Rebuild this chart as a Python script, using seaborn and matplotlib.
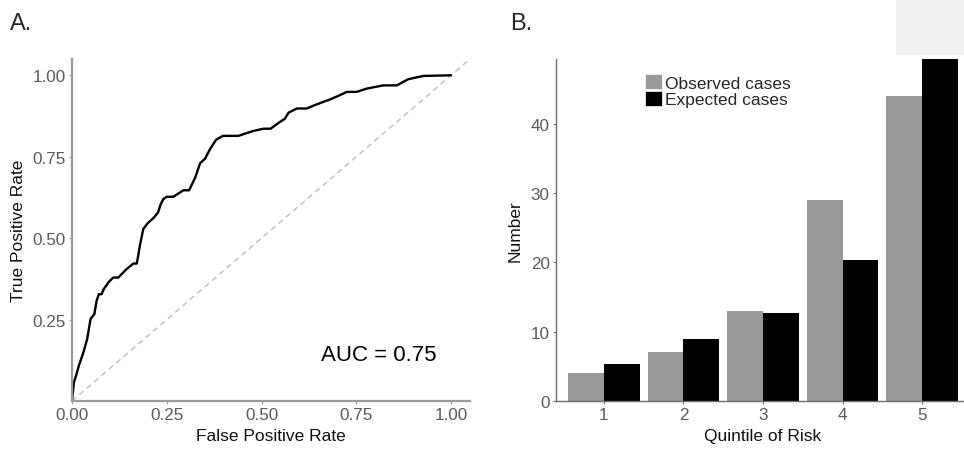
import matplotlib
matplotlib.use("Agg")
import matplotlib.pyplot as plt
import seaborn as sns
import pandas as pd
from matplotlib.patches import Rectangle, Patch

# ---- data ----
fpr = [0.0, 0.005, 0.012, 0.018, 0.030, 0.040, 0.049, 0.059, 0.065, 0.071, 0.078,
       0.084, 0.098, 0.109, 0.122, 0.144, 0.162, 0.171, 0.179, 0.188, 0.200, 0.216,
       0.227, 0.234, 0.241, 0.250, 0.267, 0.294, 0.309, 0.325, 0.338, 0.351, 0.364,
       0.380, 0.398, 0.439, 0.478, 0.505, 0.524, 0.544, 0.562, 0.571, 0.593, 0.619,
       0.646, 0.681, 0.703, 0.725, 0.751, 0.777, 0.821, 0.857, 0.887, 0.927, 1.0]
tpr = [0.0, 0.057, 0.083, 0.108, 0.149, 0.190, 0.252, 0.267, 0.308, 0.328, 0.328,
       0.344, 0.367, 0.379, 0.379, 0.405, 0.422, 0.422, 0.476, 0.528, 0.546, 0.563,
       0.579, 0.604, 0.620, 0.627, 0.627, 0.647, 0.647, 0.686, 0.730, 0.744, 0.773,
       0.802, 0.814, 0.814, 0.829, 0.836, 0.836, 0.853, 0.867, 0.885, 0.898, 0.898,
       0.911, 0.926, 0.937, 0.949, 0.949, 0.959, 0.969, 0.969, 0.988, 0.998, 1.0]
auc_label = "AUC = 0.75"

quintiles = ["1", "2", "3", "4", "5"]
observed = [4.0, 7.0, 13.0, 29.0, 44.0]
expected = [5.3, 9.0, 12.7, 20.4, 50.0]
series_names = ["Observed cases", "Expected cases"]

# ---- style ----
sns.set_style("white")
plt.rcParams["font.family"] = ["Liberation Sans", "DejaVu Sans"]

axis_col = "#9a9a9a"
tick_col = "#5a5a5a"

fig = plt.figure(figsize=(9.64, 4.52), dpi=100)

bottom = 50 / 452
height = 342 / 452

# ---- panel A ----
axA = fig.add_axes([72 / 964, bottom, 398 / 964, height])
roc = pd.DataFrame({"fpr": fpr, "tpr": tpr})
axA.axline((0, 0), slope=1, color="#bdbdbd", lw=1.0, dashes=(4, 3))
sns.lineplot(data=roc, x="fpr", y="tpr", sort=False, estimator=None,
             color="black", lw=1.7, ax=axA)
axA.set_xlim(0, 1.05)
axA.set_ylim(0, 1.05)
axA.set_xticks([0, 0.25, 0.5, 0.75, 1.0])
axA.set_xticklabels(["0.00", "0.25", "0.50", "0.75", "1.00"])
axA.set_yticks([0.25, 0.5, 0.75, 1.0])
axA.set_yticklabels(["0.25", "0.50", "0.75", "1.00"])
axA.set_xlabel("False Positive Rate", fontsize=12.5, color="#111111", labelpad=4)
axA.set_ylabel("True Positive Rate", fontsize=12.5, color="#111111", labelpad=5)
axA.text(0.81, 0.144, auc_label, fontsize=16, ha="center", va="center", color="black")
for s in ["top", "right"]:
    axA.spines[s].set_visible(False)
for s in ["left", "bottom"]:
    axA.spines[s].set_color(axis_col)
    axA.spines[s].set_linewidth(1.6)
axA.tick_params(axis="both", colors=axis_col, labelcolor=tick_col, labelsize=12.3,
                length=2.5, width=0.8, pad=2, direction="out", bottom=True, left=True)

# ---- panel B ----
axB = fig.add_axes([556 / 964, bottom, 414 / 964, height])
bars = pd.DataFrame({
    "quintile": quintiles * 2,
    "value": observed + expected,
    "series": [series_names[0]] * 5 + [series_names[1]] * 5,
})
sns.barplot(data=bars, x="quintile", y="value", hue="series",
            palette=["#999999", "#000000"], width=0.9, gap=0,
            saturation=1, ax=axB, legend=False, edgecolor="none", linewidth=0)
axB.set_xlim(-0.6, 4.6)
axB.set_ylim(0, 49.35)
axB.set_yticks([0, 10, 20, 30, 40])
axB.set_xlabel("Quintile of Risk", fontsize=12.5, color="#111111", labelpad=4)
axB.set_ylabel("Number", fontsize=12.5, color="#111111", labelpad=6)
for s in ["top", "right"]:
    axB.spines[s].set_visible(False)
for s in ["left", "bottom"]:
    axB.spines[s].set_color("#6e6e6e")
    axB.spines[s].set_linewidth(1.0)
axB.tick_params(axis="both", colors="#6e6e6e", labelcolor=tick_col, labelsize=12.3,
                length=2.5, width=0.8, pad=2, direction="out", bottom=True, left=True)

handles = [Patch(facecolor="#999999", edgecolor="white", lw=0.5),
           Patch(facecolor="#000000", edgecolor="white", lw=0.5)]
axB.legend(handles, series_names, loc="upper left", bbox_to_anchor=(0.215, 0.955),
           frameon=False, fontsize=12.5, handlelength=0.95, handleheight=0.95,
           handletextpad=0.2, labelspacing=0.0, borderpad=0, borderaxespad=0)

# ---- panel labels & grey box ----
fig.text(10 / 964, 1 - 30 / 452, "A.", fontsize=17, ha="left", va="baseline")
fig.text(510 / 964, 1 - 30 / 452, "B.", fontsize=17, ha="left", va="baseline")
fig.patches.append(Rectangle((896 / 964, 1 - 56 / 452), 68 / 964, 56 / 452,
                             transform=fig.transFigure, facecolor="#f0f0f0",
                             edgecolor="none", zorder=0))

fig.savefig("out.png", dpi=100)
